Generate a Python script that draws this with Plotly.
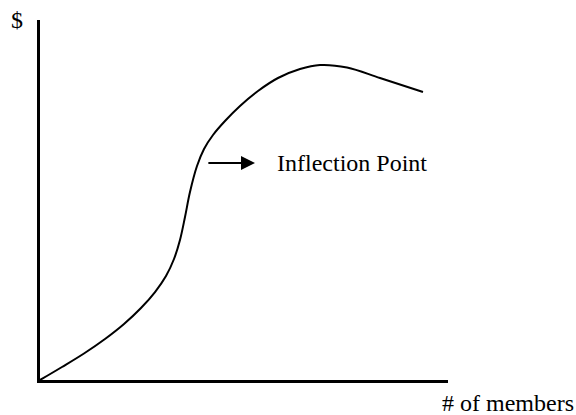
import plotly.graph_objects as go

# Curve (x: # of members, y: $), arbitrary units 0-100
members = [0, 5.39, 10.78, 15.93, 20.59, 24.75, 28.19, 30.88, 32.84, 34.31, 35.54, 36.76,
           38.48, 40.20, 42.40, 45.34, 49.02, 53.43, 58.33, 63.73, 68.63, 75.25, 83.33, 93.87]
dollars = [0, 3.61, 7.36, 11.39, 15.56, 20.0, 24.44, 28.89, 33.61, 38.89, 45.28, 52.22,
           59.44, 64.17, 68.06, 71.94, 76.11, 80.28, 83.89, 86.39, 87.5, 86.81, 83.89, 80.0]

arrow_tail = (40.9, 60.3)
arrow_head = (52.7, 60.3)
label_x = 57.6
label_text = "Inflection Point"
y_title = "$"
x_title = "# of members"

FONT = "Liberation Serif, Times New Roman, serif"
W, H = 576, 415
L, R, T, B = 40, 128, 20, 35
pw, ph = W - L - R, H - T - B

fig = go.Figure()
fig.add_trace(go.Scatter(
    x=members, y=dollars, mode="lines",
    line=dict(color="black", width=2, shape="spline", smoothing=1.0),
    hoverinfo="skip", showlegend=False,
))

fig.add_annotation(
    x=arrow_head[0], y=arrow_head[1], ax=arrow_tail[0], ay=arrow_tail[1],
    xref="x", yref="y", axref="x", ayref="y",
    text="", showarrow=True, arrowhead=2, arrowwidth=2, arrowsize=1.4, arrowcolor="black",
)
fig.add_annotation(
    x=label_x, y=arrow_head[1], xref="x", yref="y", text=label_text,
    showarrow=False, xanchor="left", yanchor="middle",
    font=dict(family=FONT, size=24, color="black"),
)
fig.add_annotation(
    x=(17 - L) / pw, y=(H - B - 20) / ph, xref="paper", yref="paper", text=y_title,
    showarrow=False, xanchor="center", yanchor="middle",
    font=dict(family=FONT, size=24, color="black"),
)
fig.add_annotation(
    x=(508 - L) / pw, y=(H - B - 403) / ph, xref="paper", yref="paper", text=x_title,
    showarrow=False, xanchor="center", yanchor="middle",
    font=dict(family=FONT, size=24, color="black"),
)

fig.update_layout(
    width=W, height=H,
    margin=dict(l=L, r=R, t=T, b=B),
    paper_bgcolor="white", plot_bgcolor="white",
    xaxis=dict(range=[0, 100], showline=True, linecolor="black", linewidth=2.5,
               showgrid=False, zeroline=False, showticklabels=False, ticks=""),
    yaxis=dict(range=[0, 100], showline=True, linecolor="black", linewidth=2.5,
               showgrid=False, zeroline=False, showticklabels=False, ticks=""),
    font=dict(family=FONT, color="black"),
)

fig.write_html(
    "out.html",
    config={"displayModeBar": False},
    post_script="document.body.style.margin='0';document.body.style.overflow='hidden';",
)
